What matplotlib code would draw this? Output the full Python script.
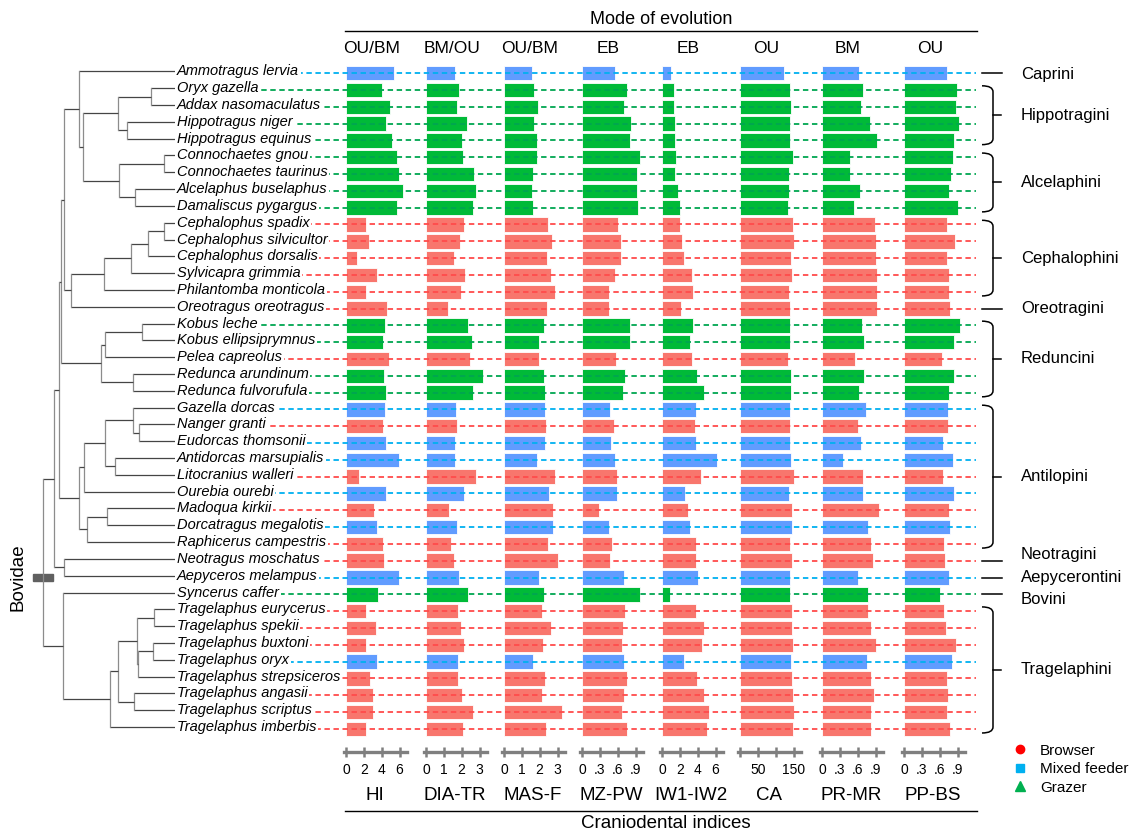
import matplotlib
matplotlib.use("Agg")
import matplotlib.pyplot as plt
from matplotlib.lines import Line2D
from matplotlib.path import Path
from matplotlib.patches import PathPatch, Rectangle

plt.rcParams['font.family'] = ['Liberation Sans', 'DejaVu Sans']

W, H = 1143, 834
Y0, DY = 73.2, 16.81   # row centres, pixels from the top
TIP = 175              # x of the tree tips
TY = -1.8              # tree / names sit a little above the bar rows


def ry(i):
    return Y0 + DY * i


species = [
    "Ammotragus lervia", "Oryx gazella", "Addax nasomaculatus", "Hippotragus niger",
    "Hippotragus equinus", "Connochaetes gnou", "Connochaetes taurinus",
    "Alcelaphus buselaphus", "Damaliscus pygargus", "Cephalophus spadix",
    "Cephalophus silvicultor", "Cephalophus dorsalis", "Sylvicapra grimmia",
    "Philantomba monticola", "Oreotragus oreotragus", "Kobus leche",
    "Kobus ellipsiprymnus", "Pelea capreolus", "Redunca arundinum",
    "Redunca fulvorufula", "Gazella dorcas", "Nanger granti", "Eudorcas thomsonii",
    "Antidorcas marsupialis", "Litocranius walleri", "Ourebia ourebi",
    "Madoqua kirkii", "Dorcatragus megalotis", "Raphicerus campestris",
    "Neotragus moschatus", "Aepyceros melampus", "Syncerus caffer",
    "Tragelaphus eurycerus", "Tragelaphus spekii", "Tragelaphus buxtoni",
    "Tragelaphus oryx", "Tragelaphus strepsiceros", "Tragelaphus angasii",
    "Tragelaphus scriptus", "Tragelaphus imberbis",
]

# B = browser, M = mixed feeder, G = grazer
diet = (["M"] + ["G"] * 8 + ["B"] * 6 + ["G", "G", "B", "G", "G"]
        + ["M", "B", "M", "M", "B", "M", "B", "M", "B"]
        + ["B", "M", "G"] + ["B", "B", "B", "M", "B", "B", "B", "B"])

HI = [5.36, 4.04, 4.9, 4.53, 5.17, 5.74, 5.96, 6.34, 5.74, 2.26,
      2.57, 1.25, 3.51, 2.19, 4.57, 4.34, 4.15, 4.79, 4.3, 4.53,
      4.34, 4.15, 4.49, 5.92, 1.43, 4.53, 3.1, 3.47, 4.1, 4.23,
      5.92, 3.55, 2.23, 3.4, 2.26, 3.44, 2.68, 2.98, 3.02, 2.26]
DIA_TR = [1.6, 1.83, 1.75, 2.3, 2.03, 2.09, 2.69, 2.8, 2.64, 2.11,
          1.88, 1.58, 2.18, 1.96, 1.26, 2.34, 2.56, 2.49, 3.2, 2.64,
          1.68, 1.73, 1.6, 1.64, 2.79, 2.11, 1.3, 1.75, 1.39, 1.58,
          1.83, 2.34, 1.77, 1.96, 2.11, 1.79, 1.77, 2.01, 2.62, 2.05]
MAS_F = [1.58, 1.68, 1.88, 1.71, 1.85, 1.86, 1.62, 1.56, 1.64, 2.47,
         2.67, 2.43, 2.66, 2.86, 2.43, 2.24, 1.98, 1.96, 2.24, 2.32,
         2.28, 2.37, 2.28, 1.83, 2.88, 2.54, 2.73, 2.75, 2.47, 3.01,
         1.96, 2.26, 2.11, 2.62, 2.19, 1.6, 2.32, 2.11, 3.24, 2.37]
MZ_PW = [0.56, 0.76, 0.70, 0.82, 0.80, 0.98, 0.92, 0.93, 0.95, 0.60,
         0.66, 0.66, 0.55, 0.46, 0.46, 0.80, 0.80, 0.58, 0.72, 0.69,
         0.47, 0.53, 0.49, 0.55, 0.59, 0.59, 0.28, 0.45, 0.50, 0.47,
         0.70, 0.98, 0.72, 0.69, 0.68, 0.70, 0.75, 0.71, 0.67, 0.76]
IW1_IW2 = [1.02, 1.32, 1.36, 1.47, 1.47, 1.58, 1.43, 1.77, 2.07, 2.0,
           2.23, 2.52, 3.36, 3.5, 2.15, 3.47, 3.16, 3.39, 3.92, 4.75,
           3.84, 3.65, 3.76, 6.18, 4.37, 2.6, 2.9, 3.16, 3.81, 3.81,
           4.0, 0.94, 3.84, 4.67, 4.52, 2.52, 3.95, 4.75, 5.28, 5.05]
CA = [124, 141, 143, 140, 141, 149, 137, 136, 135, 148,
      150, 144, 147, 136, 140, 140, 140, 135, 144, 143,
      140, 141, 140, 144, 151, 136, 146, 145, 139, 145,
      139, 141, 146, 146, 149, 143, 146, 149, 152, 148]
PR_MR = [0.63, 0.69, 0.66, 0.81, 0.92, 0.47, 0.47, 0.64, 0.53, 0.89,
         0.90, 0.91, 0.92, 0.92, 0.92, 0.68, 0.70, 0.56, 0.70, 0.62,
         0.74, 0.61, 0.66, 0.36, 0.69, 0.69, 0.96, 0.78, 0.83, 0.86,
         0.61, 0.78, 0.77, 0.83, 0.91, 0.75, 0.83, 0.87, 0.82, 0.83]
PP_BS = [0.72, 0.89, 0.87, 0.93, 0.84, 0.83, 0.79, 0.76, 0.91, 0.73,
         0.86, 0.72, 0.76, 0.76, 0.78, 0.94, 0.84, 0.64, 0.84, 0.75,
         0.74, 0.74, 0.66, 0.82, 0.65, 0.84, 0.76, 0.77, 0.67, 0.69,
         0.76, 0.61, 0.67, 0.71, 0.88, 0.81, 0.72, 0.74, 0.73, 0.77]

frac = [".3", ".6", ".9"]
# name, mode of evolution, values, x of zero (px), tick step, tick labels
panels = [
    ("HI", "OU/BM", HI, 346, 2, ["0", "2", "4", "6"]),
    ("DIA-TR", "BM/OU", DIA_TR, 426, 1, ["0", "1", "2", "3"]),
    ("MAS-F", "OU/BM", MAS_F, 504, 1, ["0", "1", "2", "3"]),
    ("MZ-PW", "EB", MZ_PW, 582, 0.3, ["0"] + frac),
    ("IW1-IW2", "EB", IW1_IW2, 662, 2, ["0", "2", "4", "6"]),
    ("CA", "OU", CA, 740, 50, ["", "50", "", "150"]),
    ("PR-MR", "BM", PR_MR, 822, 0.3, ["0"] + frac),
    ("PP-BS", "OU", PP_BS, 904, 0.3, ["0"] + frac),
]

# tribe, first row, last row, label nudge (px)
tribes = [
    ("Caprini", 0, 0, 1), ("Hippotragini", 1, 4, 0), ("Alcelaphini", 5, 8, 0),
    ("Cephalophini", 9, 13, 0), ("Oreotragini", 14, 14, 0), ("Reduncini", 15, 19, 0),
    ("Antilopini", 20, 28, 0), ("Neotragini", 29, 29, -6), ("Aepycerontini", 30, 30, 0),
    ("Bovini", 31, 31, 5), ("Tragelaphini", 32, 39, 0),
]

# (node depth, children); leaves are species names
tree = (43, [
    (54, [
        (59, [
            (61, [
                (64, [
                    (79, ["Ammotragus lervia",
                          (83, [(118, [(151, ["Oryx gazella", "Addax nasomaculatus"]),
                                       (127, ["Hippotragus niger", "Hippotragus equinus"])]),
                                (119, [(164, ["Connochaetes gnou", "Connochaetes taurinus"]),
                                       (135, ["Alcelaphus buselaphus", "Damaliscus pygargus"])])])]),
                    (71, [(104, [(131, [(148, [(164, ["Cephalophus spadix", "Cephalophus silvicultor"]),
                                               "Cephalophus dorsalis"]),
                                        "Sylvicapra grimmia"]),
                                 "Philantomba monticola"]),
                          "Oreotragus oreotragus"])]),
                (101, [(105, [(142, ["Kobus leche", "Kobus ellipsiprymnus"]), "Pelea capreolus"]),
                       (133, ["Redunca arundinum", "Redunca fulvorufula"])])]),
            (79, [(84, [(105, [(133, ["Gazella dorcas",
                                      (139, ["Nanger granti", "Eudorcas thomsonii"])]),
                               (115, ["Antidorcas marsupialis", "Litocranius walleri"])]),
                        "Ourebia ourebi"]),
                  (87, [(107, ["Madoqua kirkii", "Dorcatragus megalotis"]),
                        "Raphicerus campestris"])])]),
        (64, ["Neotragus moschatus", "Aepyceros melampus"])]),
    (63, ["Syncerus caffer",
          (110, [(118, [(137, [(154, ["Tragelaphus eurycerus", "Tragelaphus spekii"]),
                               (138, [(153, ["Tragelaphus buxtoni", "Tragelaphus oryx"]),
                                      "Tragelaphus strepsiceros"])]),
                        (134, ["Tragelaphus angasii", "Tragelaphus scriptus"])]),
                 "Tragelaphus imberbis"])])])

fill = {"B": "#F8766D", "M": "#619CFF", "G": "#00BA38"}
dash = {"B": "#FF4B4B", "M": "#00B0F0", "G": "#00A651"}
GREY = "#7f7f7f"

fig = plt.figure(figsize=(W / 100, H / 100), dpi=100)

n = len(species)
rows = list(range(n))
colors = [fill[d] for d in diet]
bot = 1 - ry(n - 0.5) / H
top = 1 - ry(-0.5) / H

# one small bar panel per index
for name, mode, vals, x0, step, labels in panels:
    ppu = 53.5 / (3 * step)
    axp = fig.add_axes([(x0 - 2) / W, bot, 63 / W, top - bot], zorder=1)
    axp.barh(rows, vals, height=0.86, color=colors, edgecolor="white",
             linewidth=0.6, clip_on=False)
    axp.set_xlim(-2 / ppu, 61 / ppu)
    axp.set_ylim(n - 0.5, -0.5)
    axp.patch.set_visible(False)
    for s in ("top", "left", "right"):
        axp.spines[s].set_visible(False)
    axp.spines["bottom"].set_position(("outward", 11))
    axp.spines["bottom"].set_linewidth(2.4)
    axp.spines["bottom"].set_color(GREY)
    axp.set_yticks([])
    axp.set_xticks([step * k for k in range(4)])
    axp.set_xticklabels(labels)
    axp.tick_params(axis="x", direction="inout", length=7.5, width=1.8,
                    color=GREY, labelsize=10, pad=4)

# overlay in pixel units: tree, names, guide lines, brackets
ax = fig.add_axes([0, 0, 1, 1], zorder=3)
ax.set_xlim(0, W)
ax.set_ylim(H, 0)
ax.axis("off")
ax.patch.set_visible(False)

row_of = {s: i for i, s in enumerate(species)}


def draw(node):
    if isinstance(node, str):
        return TIP, ry(row_of[node]) + TY
    x, kids = node
    ys = []
    for k in kids:
        kx, ky = draw(k)
        ax.plot([x, kx], [ky, ky], color="#454545", lw=0.9, solid_capstyle="butt")
        ys.append(ky)
    ax.plot([x, x], [ys[0], ys[-1]], color="#8c8c8c", lw=0.9)
    return x, (ys[0] + ys[-1]) / 2


draw(tree)
ax.add_patch(Rectangle((33, 574), 20, 7, color="#606060"))
ax.text(18, 577, "Bovidae", rotation=90, fontsize=13.5, ha="center", va="center")

for i, s in enumerate(species):
    ax.plot([180, 976], [ry(i), ry(i)], color=dash[diet[i]], lw=1.3,
            ls=(0, (3, 2)), zorder=2)
    ax.text(177, ry(i) + TY, s, style="italic", fontsize=10.5, ha="left",
            va="center", zorder=4,
            bbox=dict(fc="white", ec="none", pad=1.2))

for name, r0, r1, nudge in tribes:
    if r0 == r1:
        ym = ry(r0)
        ax.plot([982, 1002], [ym, ym], color="black", lw=1.1)
    else:
        y0, y1 = ry(r0) - 0.25 * DY, ry(r1) + 0.25 * DY
        ym = (y0 + y1) / 2
        verts = [(982, y0), (993, y0), (993, y0 + 6), (993, y1 - 6), (993, y1), (982, y1)]
        codes = [Path.MOVETO, Path.CURVE3, Path.CURVE3, Path.LINETO, Path.CURVE3, Path.CURVE3]
        ax.add_patch(PathPatch(Path(verts, codes), fill=False, lw=1.1, ec="black"))
        ax.plot([993, 1001], [ym, ym], color="black", lw=1.1)
    ax.text(1021, ym + nudge, name, fontsize=12, va="center", ha="left")

# headers and footers
ax.text(661, 19, "Mode of evolution", ha="center", va="center", fontsize=13)
ax.plot([345, 977], [31, 31], color="black", lw=1)
ax.plot([345, 977], [811, 811], color="black", lw=1)
ax.text(666, 823, "Craniodental indices", ha="center", va="center", fontsize=13.5)
for name, mode, vals, x0, step, labels in panels:
    ax.text(x0 + 26, 48, mode, ha="center", va="center", fontsize=12.5)
    ax.text(x0 + 29, 795, name, ha="center", va="center", fontsize=13.5)

handles = [
    Line2D([], [], ls="none", marker="o", color="#FF0000", ms=6),
    Line2D([], [], ls="none", marker="s", color="#00B0F0", ms=6),
    Line2D([], [], ls="none", marker="^", color="#00B050", ms=6.5),
]
fig.legend(handles, ["Browser", "Mixed feeder", "Grazer"], loc="upper left",
           bbox_to_anchor=(1005 / W, 1 - 736 / H), frameon=False, fontsize=11,
           handlelength=1, handletextpad=0.8, labelspacing=0.3, borderpad=0)

fig.savefig("out.png", dpi=100)
